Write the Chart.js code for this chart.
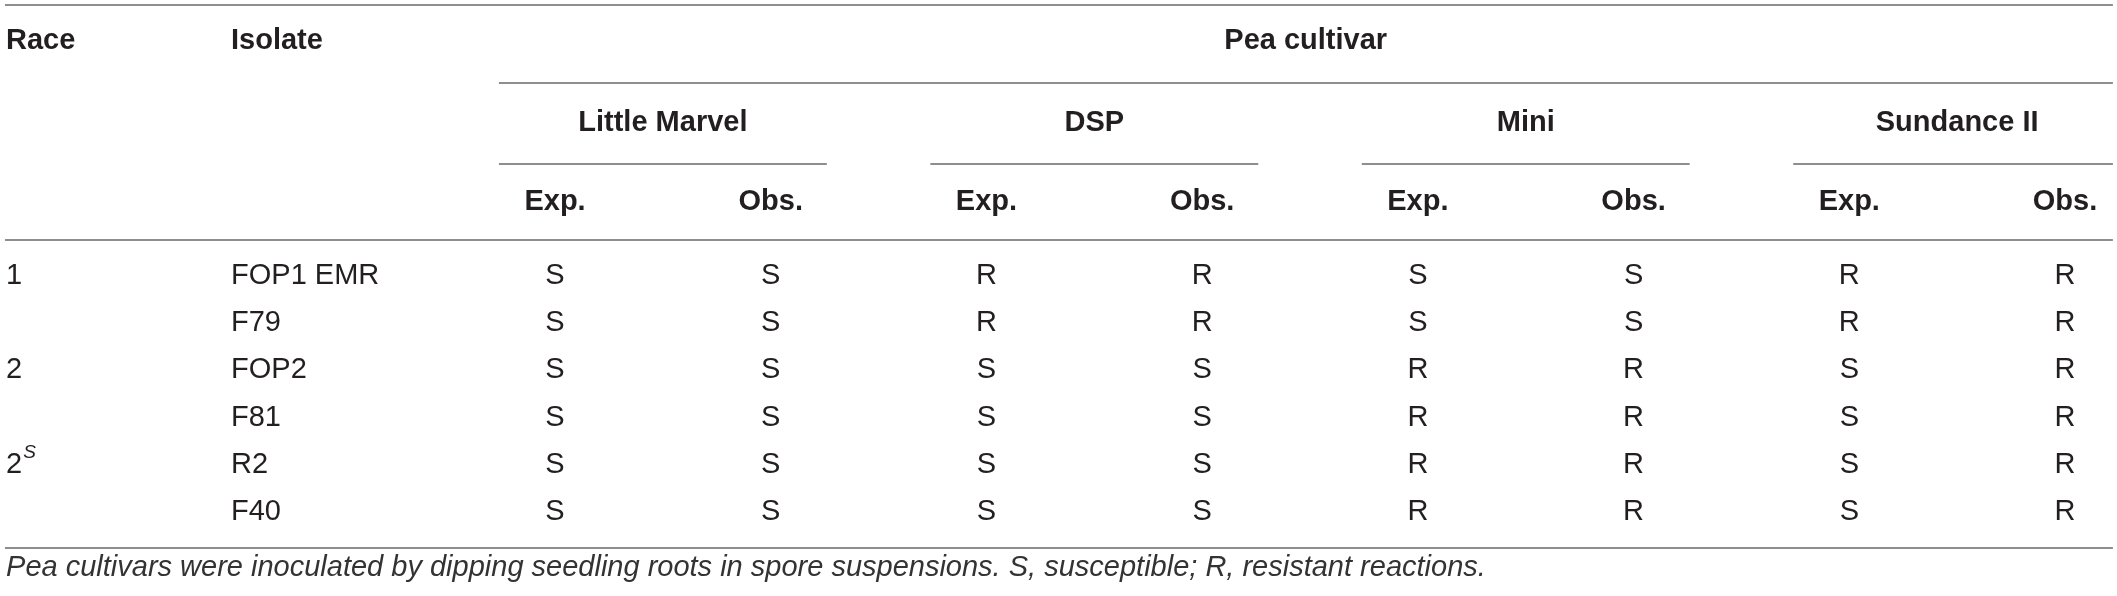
<!DOCTYPE html>
<html>
<head>
<meta charset="utf-8">
<script src="https://cdn.jsdelivr.net/npm/chart.js@4"></script>
<style>
  html, body { margin: 0; padding: 0; background: #ffffff; }
  #wrap { width: 2117px; height: 596px; }
  canvas { display: block; }
</style>
</head>
<body>
<div id="wrap"><canvas id="c" width="2117" height="596"></canvas></div>
<script>
// ---------- table content ----------
const headRace = 'Race';
const headIsolate = 'Isolate';
const headGroup = 'Pea cultivar';
const cultivars = ['Little Marvel', 'DSP', 'Mini', 'Sundance II'];
const subCols = ['Exp.', 'Obs.'];
const races = ['1', '', '2', '', '2', ''];
const raceSup = ['', '', '', '', 'S', ''];
const isolates = ['FOP1 EMR', 'F79', 'FOP2', 'F81', 'R2', 'F40'];
const littleMarvelExp = ['S', 'S', 'S', 'S', 'S', 'S'];
const littleMarvelObs = ['S', 'S', 'S', 'S', 'S', 'S'];
const dspExp = ['R', 'R', 'S', 'S', 'S', 'S'];
const dspObs = ['R', 'R', 'S', 'S', 'S', 'S'];
const miniExp = ['S', 'S', 'R', 'R', 'R', 'R'];
const miniObs = ['S', 'S', 'R', 'R', 'R', 'R'];
const sundanceExp = ['R', 'R', 'S', 'S', 'S', 'S'];
const sundanceObs = ['R', 'R', 'R', 'R', 'R', 'R'];
const footnote = 'Pea cultivars were inoculated by dipping seedling roots in spore suspensions. S, susceptible; R, resistant reactions.';

const cellValues = [
  [littleMarvelExp, littleMarvelObs],
  [dspExp, dspObs],
  [miniExp, miniObs],
  [sundanceExp, sundanceObs]
];

// ---------- layout (column / row units of the scales) ----------
const COL_RACE = -2.545, COL_ISO = -1.502;
const ROW_HEAD1 = -4.98, ROW_HEAD2 = -3.24, ROW_HEAD3 = -1.57, ROW_FOOT = 6.195;
const LINE_TOP = -5.742, LINE_GROUP = -4.089, LINE_SUB = -2.373, LINE_HEAD = -0.763, LINE_BOTTOM = 5.763;
const X_LEFT = -2.55, X_RIGHT = 7.222, X_GROUP_START = -0.26;

const INK = '#231f20';
const RULE = '#8e8e8e';
const FONT = '"Liberation Sans", Arial, Helvetica, sans-serif';
const boldFont = 'bold 29px ' + FONT;
const bodyFont = '29px ' + FONT;

const datasets = [];
function rule(x1, x2, y) {
  datasets.push({
    type: 'scatter', showLine: true, borderColor: RULE, borderWidth: 2,
    pointRadius: 0, data: [{x: x1, y: y}, {x: x2, y: y}]
  });
}
function texts(points, font, align, color) {
  datasets.push({
    type: 'scatter', pointRadius: 0, showLine: false, data: points,
    textFont: font, textAlign: align, textColor: color || INK
  });
}

// rules
rule(X_LEFT, X_RIGHT, LINE_TOP);
rule(X_GROUP_START, X_RIGHT, LINE_GROUP);
cultivars.forEach((c, g) => rule(2 * g + X_GROUP_START, Math.min(2 * g + 1.26, X_RIGHT), LINE_SUB));
rule(X_LEFT, X_RIGHT, LINE_HEAD);
rule(X_LEFT, X_RIGHT, LINE_BOTTOM);

// headers
texts([{x: COL_RACE, y: ROW_HEAD1, t: headRace}, {x: COL_ISO, y: ROW_HEAD1, t: headIsolate}], boldFont, 'left');
texts([{x: 3.48, y: ROW_HEAD1, t: headGroup}], boldFont, 'center');
texts(cultivars.map((c, g) => ({x: 2 * g + 0.5, y: ROW_HEAD2, t: c})), boldFont, 'center');
const subPts = [];
cultivars.forEach((c, g) => subCols.forEach((s, k) => subPts.push({x: 2 * g + k, y: ROW_HEAD3, t: s})));
texts(subPts, boldFont, 'center');

// body
texts(races.map((r, i) => ({x: COL_RACE, y: i, t: r, sup: raceSup[i]})), bodyFont, 'left');
texts(isolates.map((r, i) => ({x: COL_ISO, y: i, t: r})), bodyFont, 'left');
cellValues.forEach((pair, g) => pair.forEach((col, k) => {
  texts(col.map((v, i) => ({x: 2 * g + k, y: i, t: v})), bodyFont, 'center');
}));

// footnote
texts([{x: COL_RACE, y: ROW_FOOT, t: footnote}], 'italic 29px ' + FONT, 'left', '#333333');

const textPlugin = {
  id: 'tableText',
  afterDatasetsDraw(chart) {
    const ctx = chart.ctx;
    chart.data.datasets.forEach((ds, di) => {
      if (!ds.textFont) return;
      const meta = chart.getDatasetMeta(di);
      ctx.save();
      ctx.font = ds.textFont;
      ctx.fillStyle = ds.textColor;
      ctx.textAlign = ds.textAlign;
      ctx.textBaseline = 'middle';
      meta.data.forEach((el, i) => {
        const item = ds.data[i];
        if (!item.t) return;
        ctx.font = ds.textFont;
        ctx.fillText(item.t, el.x, el.y);
        if (item.sup) {
          const w = ctx.measureText(item.t).width;
          ctx.font = 'italic 19px ' + FONT;
          ctx.textAlign = 'left';
          ctx.fillText(item.sup, el.x + w + 1, el.y - 12);
          ctx.textAlign = ds.textAlign;
        }
      });
      ctx.restore();
    });
  }
};

new Chart(document.getElementById('c'), {
  type: 'scatter',
  data: { datasets: datasets },
  options: {
    responsive: false,
    devicePixelRatio: 1,
    animation: false,
    layout: { padding: 0 },
    plugins: { legend: { display: false }, tooltip: { enabled: false }, title: { display: false } },
    scales: {
      x: { type: 'linear', display: false, min: -2.573, max: 7.241 },
      y: { type: 'linear', display: false, reverse: true, min: -5.847, max: 6.780 }
    },
    elements: { line: { tension: 0 } }
  },
  plugins: [textPlugin]
});
</script>
</body>
</html>
